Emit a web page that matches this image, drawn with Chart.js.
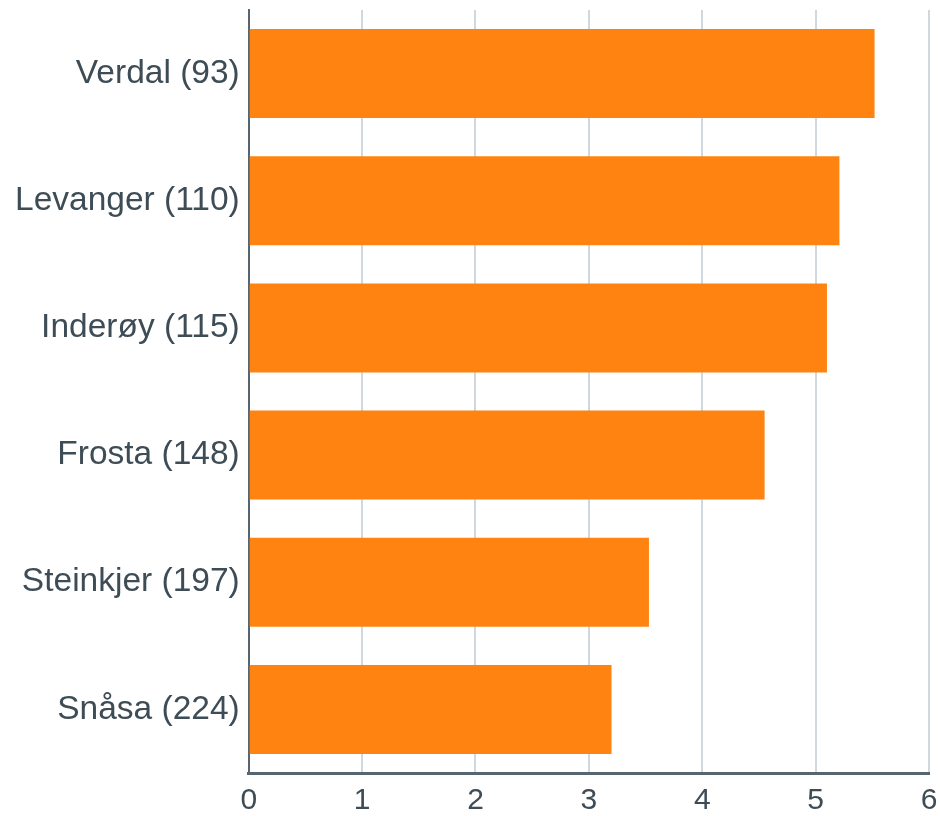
<!DOCTYPE html>
<html>
<head>
<meta charset="utf-8">
<script src="https://cdn.jsdelivr.net/npm/chart.js@4"></script>
<style>
    html, body { margin: 0; padding: 0; background: #ffffff; }
    #wrap { width: 940px; height: 816px; }
</style>
</head>
<body>
<div id="wrap"><canvas id="chart" width="940" height="816"></canvas></div>
<script>
const places = ['Verdal (93)', 'Levanger (110)', 'Inderøy (115)', 'Frosta (148)', 'Steinkjer (197)', 'Snåsa (224)'];
const values = [5.52, 5.21, 5.10, 4.55, 3.53, 3.20];
const xTicks = [0, 1, 2, 3, 4, 5, 6];

const labelColor = '#3e4c56';

const ctx = document.getElementById('chart').getContext('2d');
new Chart(ctx, {
    type: 'bar',
    data: {
        labels: places,
        datasets: [{
            data: values,
            backgroundColor: '#ff8311',
            borderWidth: 0,
            barPercentage: 0.7,
            categoryPercentage: 1.0,
        }],
    },
    options: {
        indexAxis: 'y',
        responsive: false,
        animation: false,
        layout: { padding: { top: 10, left: 6, right: 11, bottom: -13 } },
        plugins: { legend: { display: false }, tooltip: { enabled: false } },
        scales: {
            x: {
                min: xTicks[0],
                max: xTicks[xTicks.length - 1],
                afterBuildTicks: axis => { axis.ticks = xTicks.map(v => ({ value: v })); },
                // drop the half-label room so the layout padding alone sets the edges
                afterFit: axis => { axis.paddingLeft = 0; axis.paddingRight = 0; },
                grid: { color: '#cfd8de', lineWidth: 2, drawTicks: false },
                border: { color: '#56656f', width: 3 },
                ticks: {
                    color: labelColor,
                    padding: 13,
                    font: { family: 'Liberation Sans, Arial, sans-serif', size: 30, lineHeight: 1.0 },
                },
            },
            y: {
                afterFit: axis => { axis.paddingTop = 0; axis.paddingBottom = 0; },
                grid: { display: false, drawTicks: false },
                border: { color: '#56656f', width: 2 },
                ticks: {
                    color: labelColor,
                    padding: 9,
                    font: { family: 'Liberation Sans, Arial, sans-serif', size: 33.5 },
                },
            },
        },
    },
});
</script>
</body>
</html>
